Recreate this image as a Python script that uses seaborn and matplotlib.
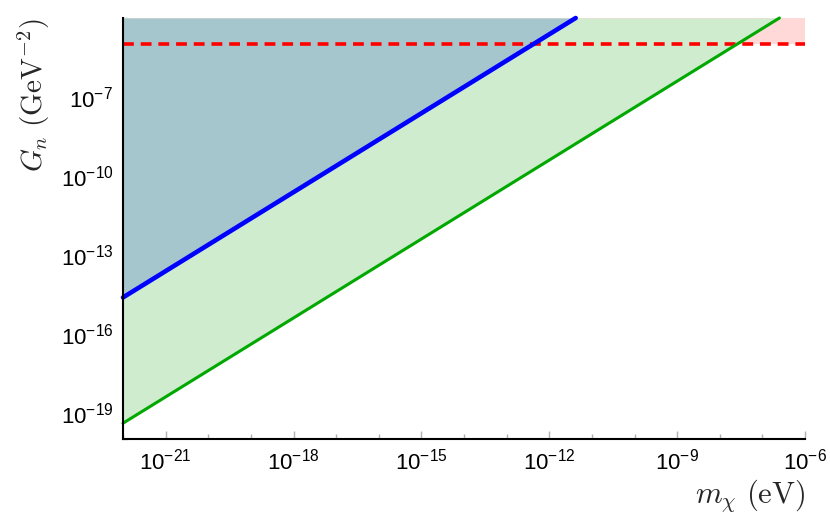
import numpy as np
import pandas as pd
import matplotlib
matplotlib.use("Agg")
import matplotlib.pyplot as plt
import matplotlib.ticker as ticker
import seaborn as sns

# ─────────────────────────────────────────────
# DATA
# ─────────────────────────────────────────────
X_MIN, X_MAX = 1e-22, 1e-6
Y_MIN, Y_MAX = 1e-20, 1e-4

# blue bound
blue_m = [1e-22, 10 ** -11.38]
blue_G = [10 ** -14.62, 1e-4]

# green bound
green_m = [1e-22, 10 ** -6.6]
green_G = [10 ** -19.4, 1e-4]

# red dashed bound
red_m = [1e-22, 1e-6]
red_G = [1e-5, 1e-5]

x_ticks = [1e-21, 1e-18, 1e-15, 1e-12, 1e-9, 1e-6]
y_ticks = [1e-19, 1e-16, 1e-13, 1e-10, 1e-7]

# ─────────────────────────────────────────────
# STYLE
# ─────────────────────────────────────────────
sns.set_theme(style="ticks")
plt.rcParams["font.family"] = ["Liberation Sans", "DejaVu Sans"]
plt.rcParams["mathtext.fontset"] = "cm"

fig = plt.figure(figsize=(8.3, 5.23), dpi=100)
ax = fig.add_axes([0.1482, 0.1606, 0.8217, 0.8050])

# fills
ax.fill_between(red_m, red_G, Y_MAX, color="#ffd8d8", linewidth=0)
ax.fill_between(green_m, green_G, Y_MAX, color="#cfeccf", linewidth=0)
ax.fill_between(blue_m, blue_G, Y_MAX, color="#a5c6cc", linewidth=0)

# lines
red_df = pd.DataFrame({"m": red_m, "G": red_G})
green_df = pd.DataFrame({"m": green_m, "G": green_G})
blue_df = pd.DataFrame({"m": blue_m, "G": blue_G})

sns.lineplot(data=red_df, x="m", y="G", ax=ax, color="#ff0000", linewidth=2.6,
             linestyle=(0, (3.0, 1.9)), zorder=4)
sns.lineplot(data=green_df, x="m", y="G", ax=ax, color="#00a800", linewidth=2.2,
             zorder=5, solid_capstyle="round")
sns.lineplot(data=blue_df, x="m", y="G", ax=ax, color="#0000ff", linewidth=3.3,
             zorder=6, solid_capstyle="round")
for ln in ax.lines:
    ln.set_clip_on(False)

ax.set_xscale("log")
ax.set_yscale("log")
ax.set_xlim(X_MIN, X_MAX)
ax.set_ylim(Y_MIN, Y_MAX)

ax.xaxis.set_major_locator(ticker.FixedLocator(x_ticks))
ax.yaxis.set_major_locator(ticker.FixedLocator(y_ticks))
ax.xaxis.set_minor_locator(ticker.LogLocator(base=10, subs=[1.0], numticks=40))
ax.yaxis.set_minor_locator(ticker.LogLocator(base=10, subs=[1.0], numticks=40))
ax.xaxis.set_minor_formatter(ticker.NullFormatter())
ax.yaxis.set_minor_formatter(ticker.NullFormatter())

ax.tick_params(which="major", direction="in", length=6, width=1, color="#b0b0b0",
               labelsize=16, labelcolor="black")
ax.tick_params(which="minor", direction="in", length=3.5, width=1, color="#b0b0b0")
ax.tick_params(axis="x", which="major", pad=7)
ax.tick_params(axis="y", which="major", pad=7)

for side in ["top", "right"]:
    ax.spines[side].set_visible(False)
for side in ["left", "bottom"]:
    ax.spines[side].set_linewidth(1.5)
    ax.spines[side].set_color("black")
    ax.spines[side].set_zorder(10)

ax.set_xlabel(r"$m_\chi\ \mathrm{(eV)}$", fontsize=22, loc="right", labelpad=2)
ax.set_ylabel(r"$G_n\ \mathrm{(GeV^{-2})}$", fontsize=21, loc="top", labelpad=6)

fig.savefig("out.png", dpi=100)
